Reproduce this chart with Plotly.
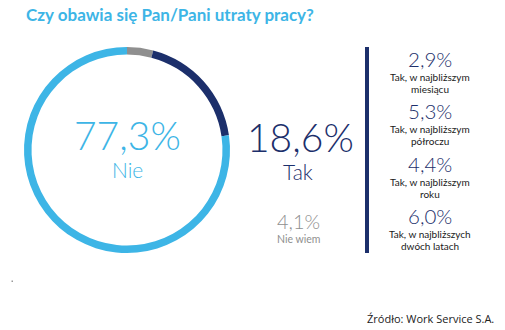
import plotly.graph_objects as go

W, H = 505, 330

# ---- data ----
categories = ["Nie wiem", "Tak", "Nie"]
values = [4.1, 18.6, 77.3]
colors = ["#8f8f8f", "#1c2f6b", "#3db5e6"]

tak_labels = [["Tak, w najbliższym", "miesiącu"],
              ["Tak, w najbliższym", "półroczu"],
              ["Tak, w najbliższym", "roku"],
              ["Tak, w najbliższych", "dwóch latach"]]
tak_values = [2.9, 5.3, 4.4, 6.0]

title = "Czy obawia się Pan/Pani utraty pracy?"
source = "Źródło: Work Service S.A."

LIGHT = "#3db5e6"
NAVY = "#1c2f6b"
GRAY = "#8f8f8f"
FONT = "Lato"


def fmt(v):
    return f"{v:.1f}".replace(".", ",") + "%"


def px(x):
    return x / W


def py(y):
    return 1 - y / H


fig = go.Figure()
fig.add_trace(go.Pie(
    labels=categories, values=values,
    marker=dict(colors=colors, line=dict(width=0)),
    hole=0.927, sort=False, direction="clockwise", rotation=0,
    textinfo="none", hoverinfo="label+percent", showlegend=False,
    domain=dict(x=[px(24), px(230)], y=[py(253), py(47)]),
))

ann = []


def text(x, y, s, size, color, weight="normal", family=FONT, xanchor="center"):
    ann.append(dict(x=px(x), y=py(y), xref="paper", yref="paper", text=s,
                    showarrow=False, xanchor=xanchor, yanchor="middle",
                    borderpad=0,
                    font=dict(size=size, color=color, family=family, weight=weight)))


# title
text(25, 15, title, 17, LIGHT, weight="bold", xanchor="left")

# centre of donut
text(127, 135, fmt(values[2]), 39, LIGHT, weight=300)
text(127, 169, categories[2], 21, LIGHT, weight=300)

# Tak / Nie wiem
text(300, 137, fmt(values[1]), 39, NAVY, weight=300)
text(298, 171, categories[1], 21, NAVY, weight=300)
text(298, 221, fmt(values[0]), 20, GRAY, weight=300)
text(298, 239, categories[0], 10.5, GRAY)

# breakdown column
for i, (lab, v) in enumerate(zip(tak_labels, tak_values)):
    y0 = 59 + i * 52.4
    text(430, y0, fmt(v), 20.5, NAVY, weight=300)
    text(430, y0 + 18, lab[0], 10, "#1a1a1a")
    text(430, y0 + 30, lab[1], 10, "#1a1a1a")

# source
text(495, 318, source, 11, "#222222", family="Open Sans", xanchor="right")

fig.update_layout(
    width=W, height=H, margin=dict(l=0, r=0, t=0, b=0),
    paper_bgcolor="white", plot_bgcolor="white",
    annotations=ann,
    shapes=[
        dict(type="rect", xref="paper", yref="paper",
             x0=px(365), x1=px(369), y0=py(253), y1=py(47),
             fillcolor=NAVY, line=dict(width=0)),
        dict(type="rect", xref="paper", yref="paper",
             x0=px(11.5), x1=px(13), y0=py(282), y1=py(280.5),
             fillcolor="#999999", line=dict(width=0)),
    ],
)

fig.write_html("out.html")
